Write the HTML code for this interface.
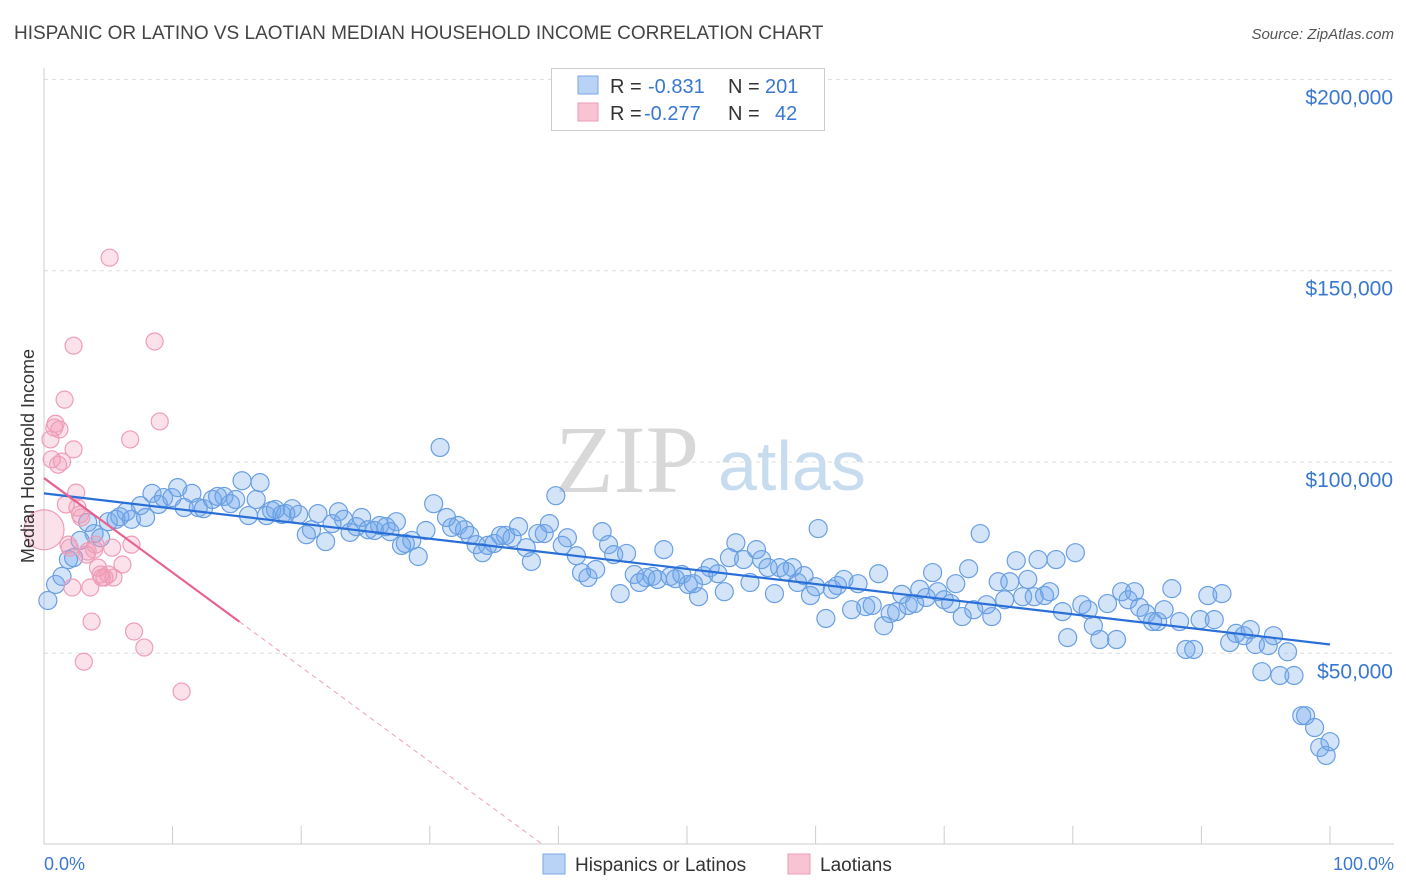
<!DOCTYPE html>
<html><head><meta charset="utf-8"><style>
body{margin:0;background:#fff;font-family:"Liberation Sans",sans-serif;}
svg{display:block}
</style></head><body>
<svg id="chart" width="1406" height="892" xmlns="http://www.w3.org/2000/svg">
<text x="14" y="39" font-size="19" fill="#444">HISPANIC OR LATINO VS LAOTIAN MEDIAN HOUSEHOLD INCOME CORRELATION CHART</text>
<text x="1394" y="39" font-size="15" fill="#555" font-style="italic" text-anchor="end">Source: ZipAtlas.com</text>
<g>
<text x="555" y="492" font-family="Liberation Serif,serif" font-size="96" fill="#d8d8d8">ZIP</text>
<text x="718" y="490" font-size="70" fill="#c8dcf0">atlas</text>
</g>
<g id="grid"></g>
<g id="axes"></g>
<g id="pts"></g>
<g id="trend"></g>
<g>
<rect x="551.5" y="68.5" width="273" height="62" fill="#fff" stroke="#ccc"/>
<rect x="578" y="76" width="20" height="18" fill="#b8d3f5" stroke="#7aa8e6"/>
<rect x="578" y="103" width="20" height="18" fill="#f8c4d4" stroke="#ee9cb6"/>
<text y="93" font-size="20"><tspan x="610" fill="#333">R = </tspan><tspan x="648" fill="#3a78d0">-0.831</tspan><tspan x="728" fill="#333">N = </tspan><tspan x="765" fill="#3a78d0">201</tspan></text>
<text y="120" font-size="20"><tspan x="610" fill="#333">R = </tspan><tspan x="644" fill="#3a78d0">-0.277</tspan><tspan x="728" fill="#333">N = </tspan><tspan x="775" fill="#3a78d0">42</tspan></text>
</g>
<g>
<rect x="543" y="854" width="22" height="20" fill="#b8d3f5" stroke="#7aa8e6"/>
<text x="575" y="871" font-size="19" fill="#333">Hispanics or Latinos</text>
<rect x="788" y="854" width="22" height="20" fill="#f8c4d4" stroke="#ee9cb6"/>
<text x="820" y="871" font-size="19" fill="#333">Laotians</text>
</g>
<text x="44" y="870" font-size="18" fill="#3a78d0">0.0%</text>
<text x="1394" y="870" font-size="18" fill="#3a78d0" text-anchor="end">100.0%</text>
<text transform="translate(34,456) rotate(-90)" font-size="18" fill="#333" text-anchor="middle">Median Household Income</text>
</svg>
<script>
const yTicks=[50000,100000,150000,200000];
const yTickLabels=["$50,000","$100,000","$150,000","$200,000"];
const xTicks=[0,10,20,30,40,50,60,70,80,90,100];
const blueX=[0.3,0.9,1.4,1.9,2.3,2.8,3.4,3.9,4.4,5.0,5.6,5.9,6.4,6.8,7.5,7.9,8.4,8.9,9.3,9.95,10.4,10.9,11.5,12.0,12.4,13.1,13.5,14.0,14.5,14.9,15.4,15.9,16.5,16.8,17.3,17.7,18.0,18.5,18.8,19.3,19.8,20.4,20.8,21.3,21.9,22.4,22.9,23.3,23.8,24.3,24.7,25.2,25.7,26.1,26.6,26.9,27.4,27.8,28.1,28.6,29.1,29.7,30.3,30.8,31.3,31.7,32.2,32.7,33.1,33.6,34.1,34.5,35.0,35.5,35.9,36.4,36.9,37.5,37.9,38.4,38.9,39.3,39.8,40.3,40.7,41.4,41.8,42.3,42.9,43.4,43.9,44.3,44.8,45.3,45.9,46.3,46.8,47.3,47.7,48.2,48.7,49.1,49.6,50.1,50.5,50.9,51.3,51.8,52.4,52.9,53.3,53.8,54.4,54.9,55.4,55.8,56.3,56.8,57.2,57.7,58.2,58.6,59.1,59.6,60.0,60.2,60.8,61.3,61.7,62.2,62.8,63.3,63.9,64.4,64.9,65.3,65.8,66.3,66.7,67.2,67.7,68.1,68.6,69.1,69.5,70.0,70.5,70.9,71.4,71.9,72.3,72.8,73.3,73.7,74.2,74.7,75.1,75.6,76.1,76.5,77.0,77.3,77.8,78.2,78.7,79.2,79.6,80.2,80.7,81.2,81.6,82.1,82.7,83.4,83.8,84.3,84.8,85.2,85.7,86.2,86.6,87.1,87.7,88.3,88.8,89.4,89.9,90.5,91.0,91.6,92.2,92.7,93.3,93.8,94.2,94.7,95.2,95.6,96.1,96.7,97.2,97.8,98.1,98.8,99.2,99.7,100];
const blueY=[63.8,68.0,70.1,74.5,75.0,79.5,84.2,81.3,80.2,84.4,85.0,85.7,87.0,85.0,88.6,85.5,91.8,88.9,90.7,90.7,93.3,88.1,91.8,88.1,87.8,90.2,91.0,91.0,89.1,90.2,95.1,86.0,90.2,94.6,86.0,87.3,87.6,86.3,86.5,87.8,86.3,81.0,82.3,86.5,79.2,83.9,87.0,85.0,81.6,83.1,85.5,82.3,82.1,83.4,83.1,81.8,84.4,78.2,78.7,79.5,75.3,82.1,89.1,103.8,85.5,82.9,83.4,82.3,80.8,78.4,76.3,78.2,78.7,80.8,80.8,80.2,83.1,77.6,74.0,81.3,81.3,83.9,91.2,78.2,80.2,75.5,71.1,69.8,71.9,81.8,78.4,75.8,65.6,76.1,70.6,68.5,69.8,70.1,69.3,77.1,70.1,69.5,70.6,68.0,68.2,64.8,70.3,72.4,70.8,66.1,75.0,78.9,74.5,68.5,77.1,74.5,72.4,65.6,72.4,71.4,72.4,68.5,70.3,65.1,67.4,82.6,59.1,66.7,67.7,69.3,61.4,68.2,62.2,62.5,70.8,57.2,60.4,60.9,65.4,62.5,63.0,66.7,64.6,71.1,66.1,64.0,63.0,68.2,59.6,72.1,61.4,81.3,62.7,59.6,68.7,64.0,68.7,74.2,64.8,69.3,64.8,74.5,65.1,66.1,74.5,60.9,54.1,76.3,62.7,61.4,57.2,53.6,63.0,53.6,66.1,64.0,66.1,62.0,60.4,58.3,58.3,61.4,66.9,58.3,51.0,51.0,58.8,65.1,58.8,65.6,52.8,55.2,54.6,56.2,52.3,45.2,52.0,54.6,44.2,50.4,44.2,33.7,33.7,30.6,25.4,23.3,26.9];
const pinkX=[0,0.5,0.6,0.8,0.9,1.1,1.2,1.4,1.6,1.7,1.9,2.0,2.2,2.3,2.3,2.5,2.6,2.8,2.9,3.1,3.3,3.4,3.6,3.7,3.9,4.0,4.2,4.4,4.5,4.7,5.0,5.1,5.3,5.4,6.1,6.7,6.8,7.0,7.8,8.6,9.0,10.7];
const pinkY=[82.3,105.9,100.7,109.0,110.0,99.3,108.5,100.1,116.3,88.9,78.4,77.6,67.2,130.4,103.3,92.0,88.1,86.3,85.5,47.8,75.8,76.6,67.2,58.3,77.1,78.4,72.4,70.6,69.8,69.8,70.6,153.4,77.6,69.8,73.2,105.9,78.4,55.7,51.5,131.5,110.6,40.0];
const pinkSize=[20];
const blueTrend=[91.8,-0.395];
const pinkTrend=[95.8,-2.47];
const pinkSolidEnd=[15.2];

const NS="http://www.w3.org/2000/svg";
const X0=44,X1=1330,YB=844.6,PX_PER_K=191.3/50;
const sx=p=>X0+(X1-X0)*p/100;
const sy=k=>YB-k*PX_PER_K;
function mk(t,a,parent){const e=document.createElementNS(NS,t);for(const k in a)e.setAttribute(k,a[k]);parent.appendChild(e);return e;}
const grid=document.getElementById('grid'),axes=document.getElementById('axes'),pts=document.getElementById('pts'),trend=document.getElementById('trend');
yTicks.forEach((v,i)=>{
 const y=sy(v/1000);
 const l=mk('line',{x1:44,x2:1394,y1:y,y2:y,stroke:'#ddd','stroke-dasharray':'4,4'},grid);
 
 
 const t=mk('text',{x:1393,y:y+25,'text-anchor':'end','font-size':21,fill:'#3a78d0'},grid);
 t.textContent=yTickLabels[i];
 
 
});
const ax=mk('line',{x1:44,x2:44,y1:68,y2:844,stroke:'#ccc'},axes);


const bx=mk('line',{x1:44,x2:1394,y1:844,y2:844,stroke:'#ccc'},axes);


xTicks.forEach(p=>{
 const t=mk('line',{x1:sx(p),x2:sx(p),y1:826,y2:844,stroke:'#ccc'},axes);
 
 
});
blueX.forEach((x,i)=>{
 const c=mk('circle',{cx:sx(x),cy:sy(blueY[i]),r:9,fill:'rgba(110,165,235,0.3)',stroke:'#6a9fe2','stroke-width':1.2},pts);
 
 
});
pinkX.forEach((x,i)=>{
 const c=mk('circle',{cx:sx(x),cy:sy(pinkY[i]),r:i===0?pinkSize[0]:8.5,fill:'rgba(242,150,180,0.28)',stroke:'#ef9db8','stroke-width':1.2},pts);
 
 
});
const bl=mk('line',{x1:sx(0),y1:sy(blueTrend[0]),x2:sx(100),y2:sy(blueTrend[0]+100*blueTrend[1]),stroke:'#2a6fd8','stroke-width':2.2},trend);


const pe=pinkSolidEnd[0],pz=-pinkTrend[0]/pinkTrend[1];
const pl=mk('line',{x1:sx(0),y1:sy(pinkTrend[0]),x2:sx(pe),y2:sy(pinkTrend[0]+pe*pinkTrend[1]),stroke:'#e8628f','stroke-width':2.2},trend);


const pd=mk('line',{x1:sx(pe),y1:sy(pinkTrend[0]+pe*pinkTrend[1]),x2:sx(pz),y2:sy(0),stroke:'#eea0b8','stroke-width':1,'stroke-dasharray':'5,4'},trend);


</script>
</body></html>
